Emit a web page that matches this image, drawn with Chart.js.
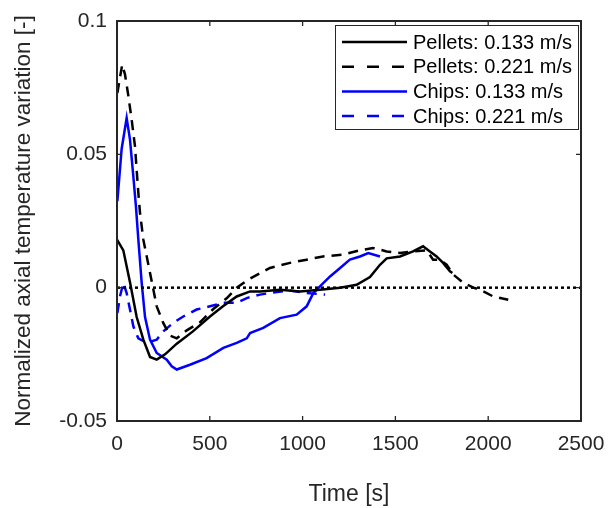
<!DOCTYPE html>
<html>
<head>
<meta charset="utf-8">
<script src="https://cdn.jsdelivr.net/npm/chart.js@4"></script>
<style>
  html, body { margin: 0; padding: 0; background: #fff; }
  #wrap { width: 608px; height: 508px; }
</style>
</head>
<body>
<div id="wrap"><canvas id="chart" width="608" height="508"></canvas></div>
<script>
const seriesLabels = ["Pellets: 0.133 m/s", "Pellets: 0.221 m/s", "Chips: 0.133 m/s", "Chips: 0.221 m/s"];

const pelletsSlowT = [0, 34, 70, 106, 142, 178, 214, 259, 322, 409, 501, 571, 645, 717, 771, 878, 986, 1094, 1202, 1291, 1363, 1417, 1453, 1525, 1595, 1649, 1686, 1722, 1757, 1794, 1807];
const pelletsSlowV = [0.018, 0.014, 0.002, -0.011, -0.0195, -0.026, -0.027, -0.025, -0.021, -0.0164, -0.0108, -0.007, -0.0033, -0.0014, -0.0014, -0.0008, -0.0014, -0.0008, 0, 0.0011, 0.004, 0.0086, 0.011, 0.0117, 0.0136, 0.0155, 0.0136, 0.0117, 0.0093, 0.0061, 0.0055];

const pelletsFastT = [2, 14, 28, 43, 61, 79, 97, 106, 115, 124, 142, 178, 214, 249, 286, 322, 376, 447, 519, 591, 645, 707, 824, 932, 1022, 1110, 1218, 1309, 1379, 1453, 1525, 1595, 1669, 1703, 1740, 1776, 1812, 1866, 1920, 1956, 2027, 2108];
const pelletsFastV = [0.073, 0.078, 0.0836, 0.080, 0.072, 0.063, 0.053, 0.044, 0.0355, 0.028, 0.018, 0.0055, -0.007, -0.0132, -0.018, -0.019, -0.016, -0.013, -0.008, -0.004, 0, 0.003, 0.0074, 0.0093, 0.0105, 0.0117, 0.0124, 0.014, 0.0149, 0.0136, 0.013, 0.0136, 0.014, 0.0105, 0.0105, 0.0086, 0.0049, 0.0018, 0, -0.0008, -0.0033, -0.0045];

const chipsSlowT = [2, 25, 52, 70, 88, 102, 115, 133, 151, 178, 214, 268, 295, 322, 393, 483, 573, 645, 699, 717, 788, 878, 968, 1022, 1058, 1103, 1148, 1202, 1255, 1309, 1354, 1417];
const chipsSlowV = [0.0324, 0.052, 0.0636, 0.0555, 0.0417, 0.0305, 0.018, 0.0018, -0.011, -0.0195, -0.0245, -0.027, -0.0295, -0.0307, -0.0289, -0.0264, -0.0226, -0.0207, -0.019, -0.017, -0.0151, -0.0114, -0.0101, -0.007, -0.002, 0.0011, 0.0042, 0.0074, 0.0105, 0.0117, 0.013, 0.0117];

const chipsFastT = [2, 16, 34, 52, 70, 88, 115, 160, 214, 249, 303, 357, 429, 501, 573, 645, 699, 771, 842, 932, 1022, 1121];
const chipsFastV = [-0.0095, -0.0033, 0.0018, -0.002, -0.0082, -0.0145, -0.019, -0.0207, -0.0195, -0.0164, -0.0132, -0.0108, -0.0082, -0.007, -0.0057, -0.0057, -0.0039, -0.0026, -0.0018, -0.0011, -0.002, -0.0026];

const zeroLineT = [0, 2500];
const zeroLineV = [0, 0];

const xTicks = [0, 500, 1000, 1500, 2000, 2500];
const xTickLabels = ["0", "500", "1000", "1500", "2000", "2500"];
const yTicks = [-0.05, 0, 0.05, 0.1];
const yTickLabels = ["-0.05", "0", "0.05", "0.1"];

const toPoints = (ts, vs) => ts.map((t, i) => ({ x: t, y: vs[i] }));

const FONT = "'Liberation Sans', Arial, sans-serif";
const AXIS_COLOR = "#262626";

// box round the plot with inward ticks, like matlab
const framePlugin = {
  id: "frame",
  afterDatasetsDraw(chart) {
    const { ctx, chartArea: a, scales } = chart;
    ctx.save();
    ctx.strokeStyle = AXIS_COLOR;
    ctx.lineWidth = 2;
    ctx.strokeRect(a.left, a.top, a.right - a.left, a.bottom - a.top);
    ctx.lineWidth = 1.3;
    ctx.beginPath();
    xTicks.forEach(t => {
      const px = scales.x.getPixelForValue(t);
      ctx.moveTo(px, a.bottom); ctx.lineTo(px, a.bottom - 5);
      ctx.moveTo(px, a.top); ctx.lineTo(px, a.top + 5);
    });
    yTicks.forEach(v => {
      const py = scales.y.getPixelForValue(v);
      ctx.moveTo(a.left, py); ctx.lineTo(a.left + 5, py);
      ctx.moveTo(a.right, py); ctx.lineTo(a.right - 5, py);
    });
    ctx.stroke();
    ctx.restore();
  }
};

// legend drawn inside the plot, top right
const legendPlugin = {
  id: "boxLegend",
  afterDraw(chart) {
    const { ctx, chartArea: a } = chart;
    const w = 243, h = 104;
    const x0 = Math.round(a.right - w - 3), y0 = Math.round(a.top + 4);
    ctx.save();
    ctx.fillStyle = "#fff";
    ctx.fillRect(x0, y0, w, h);
    ctx.strokeStyle = AXIS_COLOR;
    ctx.lineWidth = 1;
    ctx.strokeRect(x0 + 0.5, y0 + 0.5, w, h);
    ctx.font = "20px " + FONT;
    ctx.textBaseline = "middle";
    ctx.fillStyle = "#000";
    chart.data.datasets.filter(d => seriesLabels.includes(d.label)).forEach((d, i) => {
      const y = y0 + 17 + i * 24.7;
      ctx.beginPath();
      ctx.strokeStyle = d.borderColor;
      ctx.lineWidth = d.borderWidth;
      ctx.setLineDash(d.borderDash ? [12, 13] : []);
      ctx.moveTo(x0 + 7, y);
      ctx.lineTo(x0 + 72, y);
      ctx.stroke();
      ctx.setLineDash([]);
      ctx.fillText(d.label, x0 + 78, y + 1);
    });
    ctx.restore();
  }
};

const chart = new Chart("chart", {
  type: "line",
  data: {
    datasets: [
      {
        label: "zero",
        data: toPoints(zeroLineT, zeroLineV),
        borderColor: "#000",
        borderWidth: 2.5,
        borderDash: [3, 3]
      },
      {
        label: seriesLabels[0],
        data: toPoints(pelletsSlowT, pelletsSlowV),
        borderColor: "#000",
        borderWidth: 2.5
      },
      {
        label: seriesLabels[1],
        data: toPoints(pelletsFastT, pelletsFastV),
        borderColor: "#000",
        borderWidth: 2.5,
        borderDash: [10, 7]
      },
      {
        label: seriesLabels[2],
        data: toPoints(chipsSlowT, chipsSlowV),
        borderColor: "#0000ff",
        borderWidth: 2.5
      },
      {
        label: seriesLabels[3],
        data: toPoints(chipsFastT, chipsFastV),
        borderColor: "#0000ff",
        borderWidth: 2.5,
        borderDash: [10, 7]
      }
    ]
  },
  options: {
    responsive: false,
    animation: false,
    elements: { point: { radius: 0 }, line: { tension: 0 } },
    layout: { padding: { top: 21, right: 27, left: 0, bottom: 0 } },
    plugins: { legend: { display: false }, tooltip: { enabled: false } },
    scales: {
      x: {
        type: "linear",
        min: 0,
        max: 2500,
        afterFit: s => { s.height = 87; s.paddingLeft = 0; s.paddingRight = 0; },
        afterBuildTicks: s => { s.ticks = xTicks.map(v => ({ value: v })); },
        ticks: {
          font: { size: 21, family: FONT },
          color: AXIS_COLOR,
          padding: 11,
          maxRotation: 0,
          autoSkip: false,
          callback: (v, i) => xTickLabels[i]
        },
        grid: { drawOnChartArea: false, drawTicks: false },
        border: { display: false },
        title: {
          display: true,
          text: "Time [s]",
          font: { size: 23, family: FONT },
          color: AXIS_COLOR,
          padding: { top: 0, bottom: 0 }
        }
      },
      y: {
        min: -0.05,
        max: 0.1,
        afterFit: s => { s.width = 117; s.paddingTop = 0; s.paddingBottom = 0; },
        afterBuildTicks: s => { s.ticks = yTicks.map(v => ({ value: v })); },
        ticks: {
          font: { size: 21, family: FONT },
          color: AXIS_COLOR,
          padding: 10,
          callback: (v, i) => yTickLabels[i]
        },
        grid: { drawOnChartArea: false, drawTicks: false },
        border: { display: false },
        title: {
          display: true,
          text: "Normalized axial temperature variation [-]",
          font: { size: 22.5, family: FONT },
          color: AXIS_COLOR,
          padding: { top: 10, bottom: 0 }
        }
      }
    }
  },
  plugins: [framePlugin, legendPlugin]
});
</script>
</body>
</html>
